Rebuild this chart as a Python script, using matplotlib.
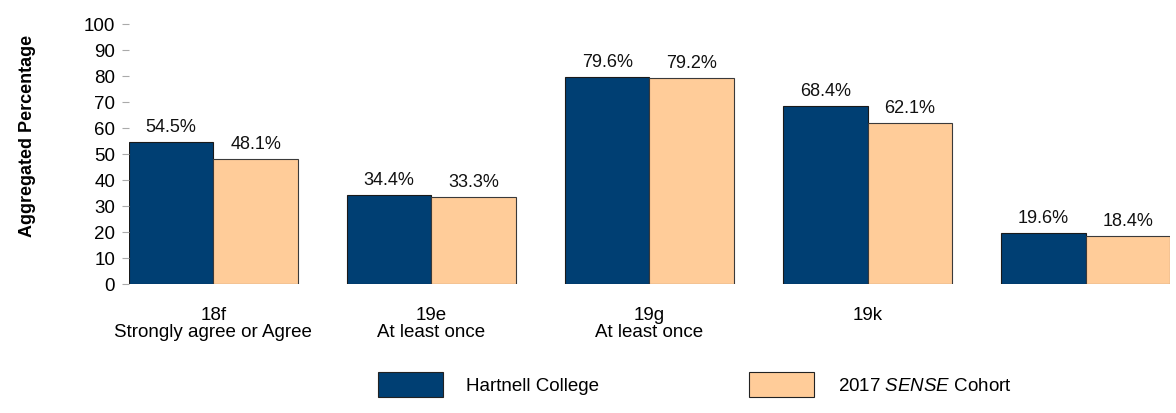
import matplotlib
matplotlib.use("Agg")
import matplotlib.pyplot as plt
from matplotlib.patches import Rectangle
import numpy as np

plt.rcParams['font.family'] = ['Liberation Sans', 'DejaVu Sans']
plt.rcParams['mathtext.fontset'] = 'custom'
plt.rcParams['mathtext.rm'] = 'Liberation Sans'
plt.rcParams['mathtext.it'] = 'Liberation Sans:italic'

categories = ["18f\nStrongly agree or Agree", "19e\nAt least once", "19g\nAt least once", "19k", ""]
college = [54.5, 34.4, 79.6, 68.4, 19.6]
cohort = [48.1, 33.3, 79.2, 62.1, 18.4]
series_names = ["Hartnell College", "2017 $\\it{SENSE}$ Cohort"]
colors = ["#003F73", "#FFCC99"]
yticks = list(range(0, 101, 10))

W, H = 1176, 414
fig = plt.figure(figsize=(W/100, H/100), dpi=100)
ax = fig.add_axes([129/W, 1-285/H, (1170-129)/W, (285-25)/H])

x = np.arange(len(categories))
w = 0.387
b1 = ax.bar(x - w/2, college, w, color=colors[0], edgecolor="#1a1a1a", linewidth=0.8)
b2 = ax.bar(x + w/2, cohort, w, color=colors[1], edgecolor="#3a3a3a", linewidth=0.8)

for bars, vals in ((b1, college), (b2, cohort)):
    for r, v in zip(bars, vals):
        ax.annotate(f"{v:.1f}%", (r.get_x() + r.get_width()/2, v), xytext=(0, 5),
                    textcoords="offset points", ha="center", va="bottom", fontsize=13, color="#111111")

ax.set_xlim(-w, len(categories) - 1 + w)
ax.set_ylim(0, 100)
ax.set_yticks(yticks)
ax.set_yticklabels([str(t) for t in yticks], fontsize=13.5)
ax.tick_params(axis='y', length=5, color="#aaaaaa", width=0.8, pad=5)
ax.set_xticks(x)
ax.set_xticklabels(categories, fontsize=13.5, linespacing=1.0)
ax.tick_params(axis='x', length=0, pad=16)
for s in ax.spines.values():
    s.set_visible(False)

fig.text(28/W, 1-136/H, "Aggregated Percentage", rotation=90, ha="center", va="center",
         fontsize=13, fontweight="bold")

# legend
for name, c, bx, tx in zip(series_names, colors, [378, 749], [466, 838]):
    fig.add_artist(Rectangle((bx/W, 1-398/H), 65/W, 25/H, transform=fig.transFigure,
                             facecolor=c, edgecolor="#222222", linewidth=0.8))
    fig.text(tx/W, 1-387/H, name, ha="left", va="center", fontsize=13.5)

fig.savefig("out.png", dpi=100)
